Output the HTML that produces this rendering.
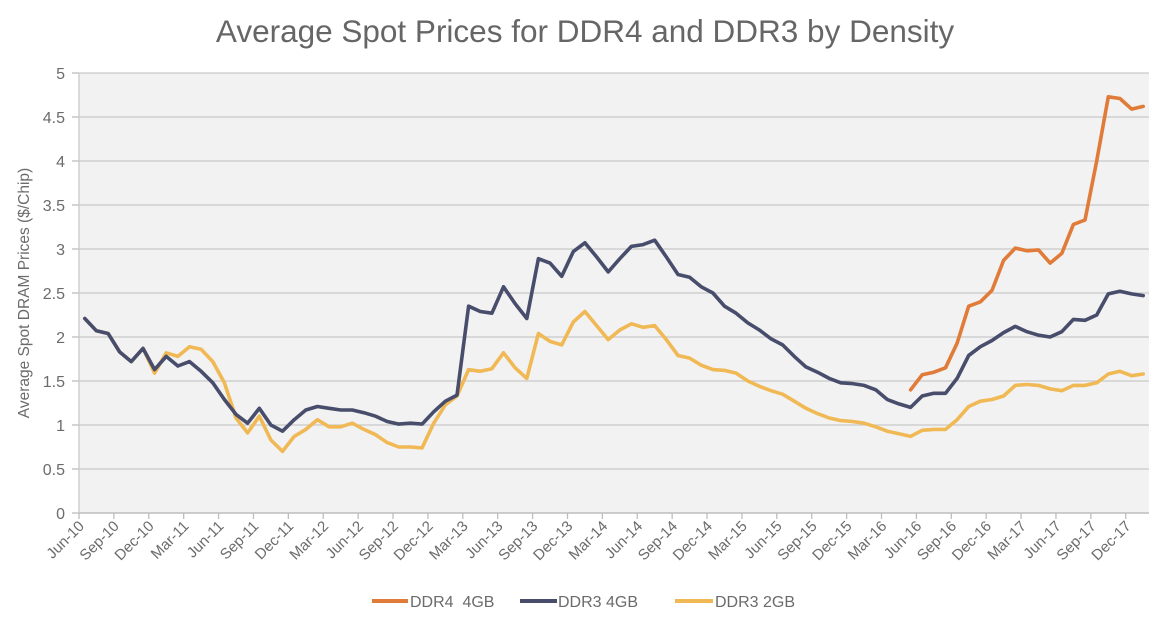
<!DOCTYPE html>
<html><head><meta charset="utf-8"><style>
body{margin:0;background:#fff;width:1170px;height:622px;overflow:hidden;font-family:"Liberation Sans",sans-serif;}
</style></head><body>
<svg id="chart" width="1170" height="622" viewBox="0 0 1170 622" xmlns="http://www.w3.org/2000/svg" font-family="Liberation Sans, sans-serif">
<text x="585" y="42" text-anchor="middle" font-size="31.5" fill="#666">Average Spot Prices for DDR4 and DDR3 by Density</text>
<rect x="79" y="73" width="1070" height="440" fill="#f2f2f2"/>
<g id="grid"></g><g id="xaxis"></g><g id="yaxis"></g><g id="series"></g>
<text transform="translate(29,293) rotate(-90)" text-anchor="middle" font-size="15.5" fill="#6b6b6b">Average Spot DRAM Prices ($/Chip)</text>
<g>
<line x1="372" y1="601" x2="408" y2="601" stroke="#e07b39" stroke-width="4"/>
<text x="410" y="607" font-size="16" fill="#6b6b6b" xml:space="preserve">DDR4  4GB</text>
<line x1="520" y1="601" x2="557" y2="601" stroke="#474d6b" stroke-width="4"/>
<text x="558" y="607" font-size="16" fill="#6b6b6b">DDR3 4GB</text>
<line x1="675" y1="601" x2="713" y2="601" stroke="#f0b955" stroke-width="4"/>
<text x="715" y="607" font-size="16" fill="#6b6b6b">DDR3 2GB</text>
</g>
</svg>
<script>
const tickLabels = ["Jun-10","Sep-10","Dec-10","Mar-11","Jun-11","Sep-11","Dec-11","Mar-12","Jun-12","Sep-12","Dec-12","Mar-13","Jun-13","Sep-13","Dec-13","Mar-14","Jun-14","Sep-14","Dec-14","Mar-15","Jun-15","Sep-15","Dec-15","Mar-16","Jun-16","Sep-16","Dec-16","Mar-17","Jun-17","Sep-17","Dec-17"];
const yTicks = [0,0.5,1,1.5,2,2.5,3,3.5,4,4.5,5];
const ddr3_4gb = [2.21,2.07,2.04,1.83,1.72,1.87,1.63,1.78,1.67,1.72,1.61,1.48,1.29,1.12,1.02,1.19,1.00,0.93,1.06,1.17,1.21,1.19,1.17,1.17,1.14,1.10,1.04,1.01,1.02,1.01,1.15,1.27,1.34,2.35,2.29,2.27,2.57,2.38,2.21,2.89,2.84,2.69,2.97,3.07,2.91,2.74,2.89,3.03,3.05,3.10,2.91,2.71,2.68,2.57,2.50,2.35,2.27,2.16,2.08,1.98,1.91,1.78,1.66,1.60,1.53,1.48,1.47,1.45,1.40,1.29,1.24,1.20,1.33,1.36,1.36,1.53,1.79,1.89,1.96,2.05,2.12,2.06,2.02,2.00,2.06,2.20,2.19,2.25,2.49,2.52,2.49,2.47];
const ddr3_2gb = [2.21,2.07,2.04,1.83,1.72,1.87,1.59,1.82,1.78,1.89,1.86,1.72,1.48,1.08,0.91,1.10,0.83,0.70,0.87,0.95,1.06,0.98,0.98,1.02,0.95,0.89,0.80,0.75,0.75,0.74,1.02,1.23,1.33,1.63,1.61,1.64,1.82,1.65,1.53,2.04,1.95,1.91,2.17,2.29,2.13,1.97,2.08,2.15,2.11,2.13,1.97,1.79,1.76,1.68,1.63,1.62,1.59,1.50,1.44,1.39,1.35,1.27,1.19,1.13,1.08,1.05,1.04,1.02,0.98,0.93,0.90,0.87,0.94,0.95,0.95,1.06,1.21,1.27,1.29,1.33,1.45,1.46,1.45,1.41,1.39,1.45,1.45,1.48,1.58,1.61,1.56,1.58];
const ddr4_4gb = [null,null,null,null,null,null,null,null,null,null,null,null,null,null,null,null,null,null,null,null,null,null,null,null,null,null,null,null,null,null,null,null,null,null,null,null,null,null,null,null,null,null,null,null,null,null,null,null,null,null,null,null,null,null,null,null,null,null,null,null,null,null,null,null,null,null,null,null,null,null,null,1.40,1.57,1.60,1.65,1.93,2.35,2.40,2.53,2.87,3.01,2.98,2.99,2.84,2.95,3.28,3.33,4.00,4.73,4.71,4.59,4.62];

const NS="http://www.w3.org/2000/svg";
const L=79,R=1149,T=73,B=513,N=92,YMAX=5;
const cw=(R-L)/N;
const xPos=i=>L+(i+0.5)*cw;
const xEdge=i=>L+i*cw;
const yPos=v=>B-(v/YMAX)*(B-T);
function mk(tag,attrs,parent){const e=document.createElementNS(NS,tag);for(const k in attrs)e.setAttribute(k,attrs[k]);parent.appendChild(e);return e;}
const grid=document.getElementById('grid'),xa=document.getElementById('xaxis'),ya=document.getElementById('yaxis'),sg=document.getElementById('series');
yTicks.forEach(v=>{
  const y=yPos(v);
  if(v>0){const g=mk('line',{x1:L,x2:R,y1:y,y2:y,stroke:'#c9c9c9','stroke-width':1.3},grid);
  
  }
  const tk=mk('line',{x1:L-7,x2:L,y1:y,y2:y,stroke:'#bdbdbd','stroke-width':1.3},ya);
  
  
  const t=mk('text',{x:L-14,y:y+6,'text-anchor':'end','font-size':16,fill:'#6b6b6b'},ya);
  t.textContent=String(v);
  
  
});
const ax=mk('line',{x1:L,x2:R,y1:B,y2:B,stroke:'#bdbdbd','stroke-width':1.5},xa);


const ayl=mk('line',{x1:L,x2:L,y1:T,y2:B,stroke:'#c9c9c9','stroke-width':1.3},ya);


tickLabels.forEach((lab,k)=>{
  const x=xEdge(k*3);
  const tk=mk('line',{x1:x,x2:x,y1:B,y2:B+6,stroke:'#bdbdbd','stroke-width':1.3},xa);
  
  
  const t=mk('text',{x:0,y:0,'text-anchor':'end','font-size':15,fill:'#6b6b6b',transform:`translate(${x+6},${B+14}) rotate(-45)`},xa);
  t.textContent=lab;
  
  
});
function drawSeries(arr,color,name){
  let d='',pen=false;
  arr.forEach((v,i)=>{if(v==null){pen=false;return;}d+=(pen?'L':'M')+xPos(i).toFixed(1)+','+yPos(v).toFixed(1);pen=true;});
  const p=mk('path',{d:d,fill:'none',stroke:color,'stroke-width':3.6,'stroke-linejoin':'round','stroke-linecap':'round'},sg);
  
  
}
drawSeries(ddr3_2gb,'#f0b955','line-ddr3-2gb');
drawSeries(ddr3_4gb,'#474d6b','line-ddr3-4gb');
drawSeries(ddr4_4gb,'#e07b39','line-ddr4-4gb');
</script>
</body></html>
